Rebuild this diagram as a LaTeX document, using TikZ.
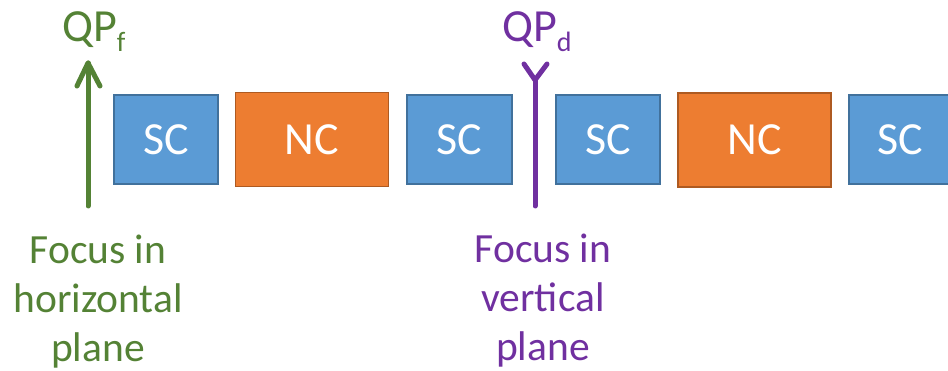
\documentclass[tikz,border=0pt]{standalone}
\usepackage{fontspec}
\setmainfont{Carlito}
\definecolor{scfill}{HTML}{5B9BD5}
\definecolor{scdraw}{HTML}{41719C}
\definecolor{ncfill}{HTML}{ED7D31}
\definecolor{ncdraw}{HTML}{AE5A21}
\definecolor{qpgreen}{HTML}{548235}
\definecolor{qppurple}{HTML}{7030A0}
\newcommand{\subf}[1]{\raisebox{-10pt}{\fontsize{28}{30}\selectfont #1}}
\tikzset{
  cell/.style={draw, line width=1.6pt, inner sep=0pt, text=white, font=\fontsize{46}{50}\selectfont},
  sc/.style={cell, fill=scfill, draw=scdraw},
  nc/.style={cell, fill=ncfill, draw=ncdraw},
  qp/.style={font=\fontsize{46}{50}\selectfont, inner sep=0pt, anchor=base west},
  focus/.style={font=\fontsize{41.5}{49}\selectfont, align=center, inner sep=0pt, anchor=base},
  ray/.style={line width=5pt, line cap=round, line join=round}
}
\begin{document}
\begin{tikzpicture}[x=1pt, y=-1pt]
\useasboundingbox (0,0) rectangle (948,371);
% boxes
\node[sc, minimum width=104pt, minimum height=89pt] (sc1) at (166,139.5) {SC};
\node[nc, minimum width=153pt, minimum height=94pt] (nc1) at (312,139.5) {NC};
\node[sc, minimum width=105pt, minimum height=89pt] (sc2) at (459.5,139.5) {SC};
\node[sc, minimum width=104pt, minimum height=89pt] (sc3) at (608,139.5) {SC};
\node[nc, minimum width=153pt, minimum height=94pt] (nc2) at (754.5,140) {NC};
\node[sc, minimum width=102pt, minimum height=89pt] (sc4) at (900,139.5) {SC};
% labels
\node[qp, text=qpgreen] (qpf) at (62,42) {QP\subf{f}};
\node[qp, text=qppurple] (qpd) at (502,42) {QP\subf{d}};
% green arrow
\coordinate (gb) at (88,206);
\coordinate (gt) at (88,63);
\coordinate (gl) at (77,86);
\coordinate (gr) at (100,86);
\draw[ray, qpgreen] (gb) -- (gt);
\draw[ray, qpgreen] (gl) -- (gt) -- (gr);
% purple fork
\coordinate (pb) at (535,206);
\coordinate (pj) at (535,80);
\coordinate (pl) at (524,64);
\coordinate (pr) at (547,64);
\draw[ray, qppurple] (pb) -- (pj);
\draw[ray, qppurple] (pl) -- (pj) -- (pr);
% focus texts
\node[focus, text=qpgreen] (fh) at (98,362) {Focus in\\horizontal\\plane};
\node[focus, text=qppurple] (fv) at (543,360) {Focus in\\vertical\\plane};
\end{tikzpicture}
\end{document}
